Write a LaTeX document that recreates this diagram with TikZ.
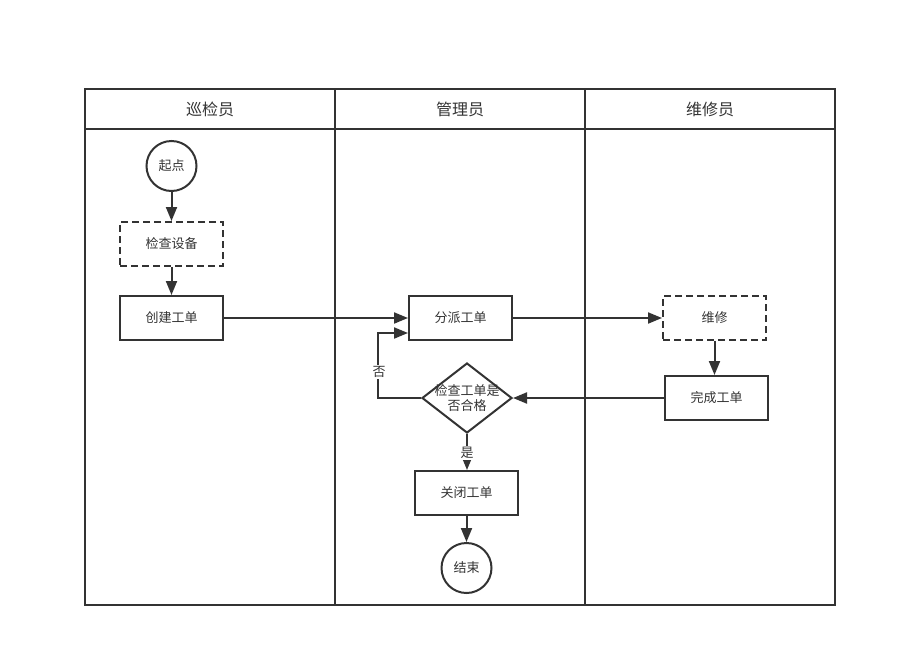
\documentclass[tikz,border=0pt]{standalone}
\usepackage{fontspec}
\setmainfont{Noto Sans CJK SC}
\usepackage{xcolor}
\usepackage{tikz}
\usetikzlibrary{shapes,arrows,positioning,calc,arrows.meta}
\definecolor{linegray}{HTML}{333333}

\tikzset{
  box/.style={draw=linegray, line width=2pt, minimum width=103pt, minimum height=44pt, inner sep=0pt, text=linegray, font=\fontsize{13}{15}\selectfont},
  dashbox/.style={box, dash pattern=on 7pt off 4pt},
  endpt/.style={circle, draw=linegray, line width=2pt, minimum size=50pt, inner sep=0pt, text=linegray, font=\fontsize{13}{15}\selectfont},
  flow/.style={draw=linegray, line width=2pt, -{Triangle[length=14pt,width=11pt]}},
  lanetitle/.style={text=linegray, font=\fontsize{16}{18}\selectfont},
  tag/.style={fill=white, inner sep=1pt, text=linegray, font=\fontsize{13}{15}\selectfont},
}

\begin{document}
\begin{tikzpicture}[x=1pt, y=-1pt]
    \useasboundingbox (0,0) rectangle (897,667);

    % Lanes
    \draw[linegray, line width=2pt] (85,89) rectangle (835,605);
    \draw[linegray, line width=2pt] (85,129) -- (835,129);
    \draw[linegray, line width=2pt] (335,89) -- (335,605);
    \draw[linegray, line width=2pt] (585,89) -- (585,605);
    \node[lanetitle] (inspector) at (210,109) {巡检员};
    \node[lanetitle] (manager) at (460,109) {管理员};
    \node[lanetitle] (repairer) at (710,109) {维修员};

    % Inspector lane
    \node[endpt] (start) at (171.5,166) {起点};
    \node[dashbox] (inspect) at (171.5,244) {检查设备};
    \node[box] (create) at (171.5,318) {创建工单};

    % Manager lane
    \node[box] (assign) at (460.5,318) {分派工单};
    \node[diamond, draw=linegray, line width=2pt, minimum width=90pt, minimum height=70pt, inner sep=0pt] (check) at (467,398) {};
    \node[align=center, text=linegray, font=\fontsize{13}{15}\selectfont] (checktext) at (check.center) {检查工单是\\否合格};
    \node[box] (close) at (466.5,493) {关闭工单};
    \node[endpt] (stop) at (466.5,568) {结束};

    % Repairer lane
    \node[dashbox] (repair) at (714.5,318) {维修};
    \node[box] (finish) at (716.5,398) {完成工单};

    % Flow
    \draw[flow] (start) -- (inspect);
    \draw[flow] (inspect) -- (create);
    \draw[flow] (create) -- (assign);
    \draw[flow] (assign) -- (repair);
    \draw[flow] (repair.south) -- (repair.south |- finish.north);
    \draw[flow] (finish) -- (check);
    \coordinate (backin) at ([yshift=-15pt]assign.west);
    \draw[flow] (check.west) -- ++(-43,0) |- (backin);
    \node[tag] (no) at (379,372) {否};
    \draw[flow] (check.south) -- (check.south |- close.north);
    \node[tag] (yes) at (467,453) {是};
    \draw[flow] (close) -- (stop);
\end{tikzpicture}
\end{document}
